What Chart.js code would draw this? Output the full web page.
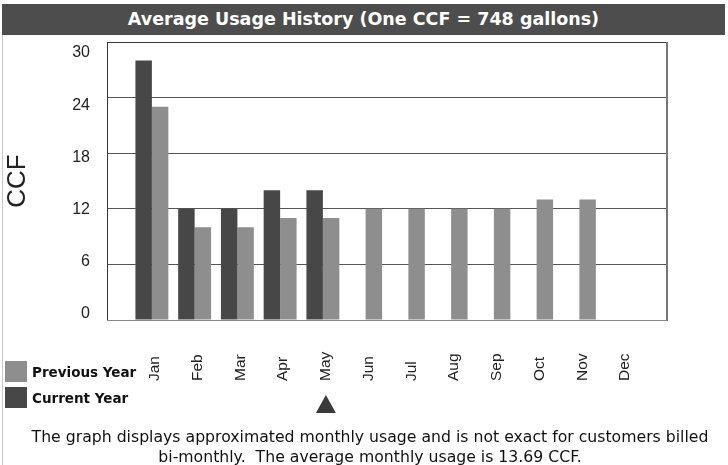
<!DOCTYPE html>
<html><head><meta charset="utf-8">
<script src="https://cdn.jsdelivr.net/npm/chart.js@4.4.0/dist/chart.umd.min.js"></script>
<style>
html,body{margin:0;padding:0;background:#fff;}
#wrap{position:relative;width:728px;height:465px;overflow:hidden;background:#fff;}
#c{position:absolute;left:0;top:0;}
#frame{position:absolute;left:2px;top:35px;width:0;height:430px;border-left:1px solid #c8c8c8;}
#title{position:absolute;left:2px;top:4px;width:723px;height:31px;background:#4d4d4d;color:#fff;font:bold 17.5px "DejaVu Sans",sans-serif;text-align:center;line-height:31px;white-space:nowrap;}
.lg{position:absolute;left:5px;height:22px;font:bold 13.5px "DejaVu Sans",sans-serif;color:#111;white-space:nowrap;}
.lg span{display:inline-block;width:22px;height:21px;vertical-align:middle;margin-right:5px;}
.lg b{vertical-align:middle;}
#note{position:absolute;left:12px;top:427px;width:716px;text-align:center;font:15.7px "DejaVu Sans",sans-serif;line-height:20px;color:#111;white-space:nowrap;}
</style></head>
<body>
<div id="wrap">
<canvas id="c" width="728" height="465"></canvas>
<div id="frame"></div>
<div id="title">Average Usage History (One CCF = 748 gallons)</div>
<div class="lg" style="top:361px"><span style="background:#8e8e8e"></span><b>Previous Year</b></div>
<div class="lg" style="top:387px"><span style="background:#474747"></span><b>Current Year</b></div>
<div id="note">The graph displays approximated monthly usage and is not exact for customers billed<br>bi-monthly.&nbsp; The average monthly usage is 13.69 CCF.</div>
</div>
<script>
const months = ['Jan','Feb','Mar','Apr','May','Jun','Jul','Aug','Sep','Oct','Nov','Dec'];
const currentYear = [28,12,12,14,14,null,null,null,null,null,null,null];
const previousYear = [23,10,10,11,11,12,12,12,12,13,13,null];
const yTicks = [0,6,12,18,24,30];
const currentMonth = 'May';

const COLOR_CUR = '#474747';
const COLOR_PREV = '#8e8e8e';
const AXIS_FONT = '"Liberation Sans", Arial, sans-serif';

const toPoints = arr => months.map((m,i)=>({x:i,y:arr[i]}));

const overlay = {
  id:'overlay',
  afterDraw(chart){
    const ctx = chart.ctx, a = chart.chartArea, xs = chart.scales.x;
    ctx.save();
    // plot border
    ctx.strokeStyle = '#3a3a3a'; ctx.lineWidth = 1;
    ctx.beginPath();
    ctx.moveTo(a.left+0.5, a.bottom+0.5); ctx.lineTo(a.left+0.5, a.top+0.5); ctx.lineTo(a.right, a.top+0.5);
    ctx.stroke();
    ctx.strokeStyle = '#777'; ctx.lineWidth = 2;
    ctx.beginPath(); ctx.moveTo(a.right, a.top); ctx.lineTo(a.right, a.bottom+1); ctx.stroke();
    ctx.strokeStyle = '#888'; ctx.lineWidth = 1;
    ctx.beginPath(); ctx.moveTo(a.left, a.bottom+0.5); ctx.lineTo(a.right, a.bottom+0.5); ctx.stroke();
    // month labels (rotated, anchored at bottom)
    ctx.fillStyle = '#222';
    ctx.font = '15.5px ' + AXIS_FONT;
    months.forEach((m,i)=>{
      const x = xs.getPixelForValue(i) + 3;
      ctx.save();
      ctx.translate(x, 381);
      ctx.rotate(-Math.PI/2);
      ctx.textAlign = 'left'; ctx.textBaseline = 'middle';
      ctx.fillText(m, 0, 0);
      ctx.restore();
    });
    // current month marker
    const idx = months.indexOf(currentMonth);
    const mx = xs.getPixelForValue(idx) + 3;
    ctx.fillStyle = '#3a3a3a';
    ctx.beginPath();
    ctx.moveTo(mx, 395); ctx.lineTo(mx-10, 413); ctx.lineTo(mx+10, 413); ctx.closePath();
    ctx.fill();
    ctx.restore();
  }
};

new Chart(document.getElementById('c'), {
  type:'bar',
  data:{
    datasets:[
      {label:'Current Year', data:toPoints(currentYear), backgroundColor:COLOR_CUR, borderWidth:0},
      {label:'Previous Year', data:toPoints(previousYear), backgroundColor:COLOR_PREV, borderWidth:0}
    ]
  },
  options:{
    responsive:false, animation:false,
    layout:{padding:{top:42,right:61,bottom:145,left:0}},
    datasets:{bar:{categoryPercentage:0.77, barPercentage:1.0}},
    plugins:{legend:{display:false}, tooltip:{enabled:false}, title:{display:false}},
    scales:{
      x:{type:'linear', min:-1.05, max:12.05, offset:false,
         grid:{display:false, drawTicks:false, offset:false}, border:{display:false},
         ticks:{display:false}},
      y:{min:0, max:30, position:'left',
         afterBuildTicks(s){ s.ticks = yTicks.map(v=>({value:v})); },
         ticks:{display:false},
         grid:{color:'#555', drawTicks:false, lineWidth:1},
         border:{display:false}
      },
      // label axis: the source chart spaces its tick labels slightly tighter than its gridlines
      yLabels:{axis:'y', type:'linear', position:'left', min:-0.69, max:31.26,
         afterBuildTicks(s){ s.ticks = yTicks.map(v=>({value:v})); },
         afterFit(s){ s.width = 107; },
         ticks:{color:'#222', font:{family:AXIS_FONT, size:16}, padding:17},
         grid:{display:false, drawTicks:false},
         border:{display:false},
         title:{display:true, text:'CCF', color:'#222', font:{family:AXIS_FONT, size:26}, padding:{top:2,bottom:0}}
      }
    }
  },
  plugins:[overlay]
});
</script>
</body></html>
